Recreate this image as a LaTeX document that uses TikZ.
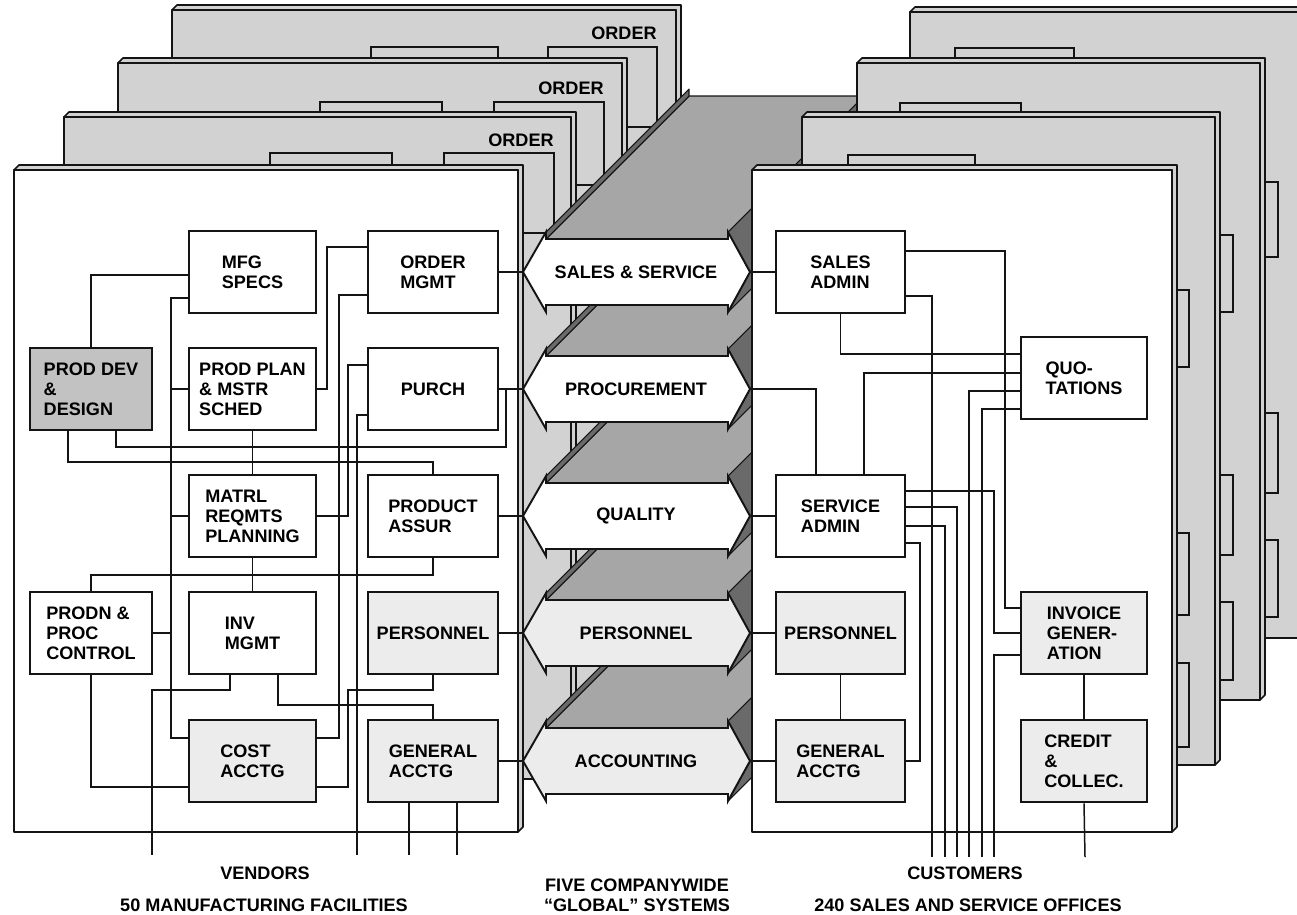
\documentclass[tikz,border=0pt]{standalone}
\usepackage{fontspec}
\setmainfont{Liberation Sans}
\usepackage{tikz}

\definecolor{ChartBlack}{HTML}{141414}
\definecolor{ChartWhite}{HTML}{FFFFFF}
\definecolor{ChartStipple}{HTML}{D2D2D2}
\definecolor{ChartLight}{HTML}{ECECEC}
\definecolor{ChartShade}{HTML}{C2C2C2}
\definecolor{ChartBand}{HTML}{A6A6A6}
\definecolor{ChartDark}{HTML}{6A6A6A}

\tikzset{
    % Base box style
    basebox/.style={
        draw=ChartBlack,
        fill=ChartWhite,
        line width=1.6pt,
        align=left,
        inner sep=2pt,
        font=\fontsize{10.3}{11.4}\selectfont\bfseries
    },
    % Outer column of the plant
    sidebox/.style={basebox, minimum width=2.44cm, minimum height=1.64cm},
    % Middle column of the plant
    midbox/.style={basebox, minimum width=2.54cm, minimum height=1.64cm},
    % Inner column of the plant
    mainbox/.style={basebox, minimum width=2.6cm, minimum height=1.64cm},
    % Inner column of the office
    salesbox/.style={basebox, minimum width=2.58cm, minimum height=1.64cm},
    % Outer column of the office
    billbox/.style={basebox, minimum width=2.52cm, minimum height=1.64cm},
    % Fills
    shadedbox/.style={fill=ChartShade},
    lightbox/.style={fill=ChartLight},
    % Lines
    wire/.style={draw=ChartBlack, line width=0.85pt},
    panelline/.style={draw=ChartBlack, line width=0.9pt, line join=round},
    tabline/.style={draw=ChartBlack, line width=1.5pt},
    bandface/.style={draw=ChartBlack, line width=0.6pt, line join=round},
    arrowface/.style={draw=ChartBlack, line width=1.1pt, line join=miter},
    % Texts
    arrowlabel/.style={font=\fontsize{10.3}{11.4}\selectfont\bfseries},
    ordertext/.style={font=\fontsize{10.3}{11.4}\selectfont\bfseries, inner sep=0pt},
    captiontext/.style={font=\fontsize{10.3}{11.4}\selectfont\bfseries, align=center}
}

% Panel with a thin edge to the back
\newcommand{\slabpanel}[5]{%
    \filldraw[panelline, fill=ChartStipple] (#1,#2) -- ({#1+5},{#2-5}) -- ({#3+5},{#2-5}) -- ({#3+5},{#4-5}) -- (#3,#4) -- (#3,#2) -- cycle;
    \filldraw[panelline, fill=#5] (#1,#2) rectangle (#3,#4);
}

\begin{document}
\begin{tikzpicture}[x=0.02cm, y=-0.02cm]
    \useasboundingbox (0,0) rectangle (1297,914);
    \clip (0,0) rectangle (1297,914);

    % Plants behind
    \slabpanel{172}{10}{676}{672}{ChartStipple}
    \filldraw[tabline, fill=ChartStipple] (371,47) rectangle (498,127);
    \filldraw[tabline, fill=ChartStipple] (548,47) rectangle (657,127);
    \node[ordertext, anchor=east] (orderthree) at (657,33) {ORDER};
    \slabpanel{118}{63}{622}{725}{ChartStipple}
    \filldraw[tabline, fill=ChartStipple] (320,102) rectangle (442,182);
    \filldraw[tabline, fill=ChartStipple] (494,102) rectangle (604,185);
    \node[ordertext, anchor=east] (ordertwo) at (604,88) {ORDER};
    \slabpanel{64}{117}{571}{779}{ChartStipple}
    \filldraw[tabline, fill=ChartStipple] (270,153) rectangle (392,233);
    \filldraw[tabline, fill=ChartStipple] (444,153) rectangle (554,233);
    \node[ordertext, anchor=east] (orderone) at (554,140) {ORDER};

    % Global systems band
    \foreach \yc in {761,633,516,389,272}{
        \filldraw[bandface, fill=ChartBand] (546,{\yc-33}) -- (728,{\yc-33}) -- (871,{\yc-176}) -- (689,{\yc-176}) -- cycle;
        \filldraw[bandface, fill=ChartDark] (546,{\yc-40}) -- (546,{\yc-33}) -- (689,{\yc-176}) -- (689,{\yc-183}) -- cycle;
        \filldraw[bandface, fill=ChartDark] (728,{\yc-40}) -- (750,\yc) -- (893,{\yc-143}) -- (871,{\yc-183}) -- cycle;
        \filldraw[bandface, fill=ChartDark] (750,\yc) -- (728,{\yc+40}) -- (871,{\yc-103}) -- (893,{\yc-143}) -- cycle;
    }

    % Offices behind
    \slabpanel{910}{12}{1320}{638}{ChartStipple}
    \filldraw[tabline, fill=ChartStipple] (955,48) rectangle (1074,130);
    \filldraw[tabline, fill=ChartStipple] (1152,182) rectangle (1278,257);
    \filldraw[tabline, fill=ChartStipple] (1152,413) rectangle (1278,493);
    \filldraw[tabline, fill=ChartStipple] (1152,540) rectangle (1278,617);
    \slabpanel{857}{63}{1260}{700}{ChartStipple}
    \filldraw[tabline, fill=ChartStipple] (900,103) rectangle (1021,185);
    \filldraw[tabline, fill=ChartStipple] (1107,235) rectangle (1233,312);
    \filldraw[tabline, fill=ChartStipple] (1107,475) rectangle (1233,555);
    \filldraw[tabline, fill=ChartStipple] (1107,602) rectangle (1233,680);
    \slabpanel{802}{117}{1215}{765}{ChartStipple}
    \filldraw[tabline, fill=ChartStipple] (848,155) rectangle (975,237);
    \filldraw[tabline, fill=ChartStipple] (1063,290) rectangle (1189,367);
    \filldraw[tabline, fill=ChartStipple] (1063,533) rectangle (1189,615);
    \filldraw[tabline, fill=ChartStipple] (1063,663) rectangle (1189,747);

    % Front plant and front office
    \slabpanel{14}{170}{518}{832}{ChartWhite}
    \slabpanel{752}{170}{1172}{832}{ChartWhite}

    % Double arrows
    \foreach \yc/\tone/\txt/\key in {761/ChartLight/ACCOUNTING/acct, 633/ChartLight/PERSONNEL/pers, 516/ChartWhite/QUALITY/qual, 389/ChartWhite/PROCUREMENT/proc, 272/ChartWhite/SALES \& SERVICE/sales}{
        \filldraw[arrowface, fill=\tone] (523,\yc) -- (546,{\yc-40}) -- (546,{\yc-33}) -- (728,{\yc-33}) -- (728,{\yc-40}) -- (750,\yc)
            -- (728,{\yc+40}) -- (728,{\yc+33}) -- (546,{\yc+33}) -- (546,{\yc+40}) -- cycle;
        \node[arrowlabel] (\key) at (636,\yc) {\txt};
        \coordinate (\key-w) at (523,\yc);
        \coordinate (\key-e) at (750,\yc);
    }

    % Plant functions
    \node[midbox] (mfgspecs) at (252.5,272) {MFG\\SPECS};
    \node[mainbox] (ordermgmt) at (433,272) {ORDER\\MGMT};
    \node[sidebox, shadedbox] (proddev) at (91,389) {PROD DEV\\\&\\DESIGN};
    \node[midbox] (prodplan) at (252.5,389) {PROD PLAN\\\& MSTR\\SCHED};
    \node[mainbox] (purch) at (433,389) {PURCH};
    \node[midbox] (matrl) at (252.5,516) {MATRL\\REQMTS\\PLANNING};
    \node[mainbox] (productassur) at (433,516) {PRODUCT\\ASSUR};
    \node[sidebox] (prodn) at (91,633) {PRODN \&\\PROC\\CONTROL};
    \node[midbox] (invmgmt) at (252.5,633) {INV\\MGMT};
    \node[mainbox, lightbox] (personnelL) at (433,633) {PERSONNEL};
    \node[midbox, lightbox] (costacctg) at (252.5,761) {COST\\ACCTG};
    \node[mainbox, lightbox] (genacctgL) at (433,761) {GENERAL\\ACCTG};

    % Office functions
    \node[salesbox] (salesadmin) at (840.5,272) {SALES\\ADMIN};
    \node[billbox] (quotations) at (1084,378) {QUO-\\TATIONS};
    \node[salesbox] (serviceadmin) at (840.5,516) {SERVICE\\ADMIN};
    \node[salesbox, lightbox] (personnelR) at (840.5,633) {PERSONNEL};
    \node[salesbox, lightbox] (genacctgR) at (840.5,761) {GENERAL\\ACCTG};
    \node[billbox, lightbox] (invoice) at (1084,633) {INVOICE\\GENER-\\ATION};
    \node[billbox, lightbox] (credit) at (1084,761) {CREDIT\\\&\\COLLEC.};

    % Free ends
    \coordinate (venA) at (152,855);
    \coordinate (venB) at (357,855);
    \coordinate (venC) at (409,855);
    \coordinate (venD) at (457,855);
    \coordinate (cusA) at (932,857);
    \coordinate (cusB) at (945,857);
    \coordinate (cusC) at (957,857);
    \coordinate (cusD) at (969,857);
    \coordinate (cusE) at (982,857);
    \coordinate (cusF) at (994,857);
    \coordinate (cusG) at (1085,857);

    % Plant wiring
    \draw[wire] (mfgspecs.west |- 0,275) -| (proddev.north);
    \draw[wire] (mfgspecs.west |- 0,298) -| (171,738) -- (costacctg.west |- 0,738);
    \draw[wire] (prodplan.west) -- (prodplan.west -| 171,0);
    \draw[wire] (matrl.west) -- (matrl.west -| 171,0);
    \draw[wire] (prodn.east) -- (prodn.east -| 171,0);
    \draw[wire] (ordermgmt.west |- 0,247) -| (327,389) -- (prodplan.east);
    \draw[wire] (ordermgmt.west |- 0,295) -| (339,738) -- (costacctg.east |- 0,738);
    \draw[wire] (purch.west |- 0,365) -| (348,516) -- (matrl.east);
    \draw[wire] (purch.west |- 0,415) -| (venB);
    \draw[wire] (purch.east) -- (proc-w);
    \draw[wire] (purch.east -| 506,0) -- (506,447) -| (proddev.south -| 116,0);
    \draw[wire] (proddev.south -| 68,0) |- (433,462) -- (productassur.north);
    \draw[wire] (prodplan.south) -- (matrl.north);
    \draw[wire] (matrl.south) -- (invmgmt.north);
    \draw[wire] (productassur.south) |- (91,575) -- (prodn.north);
    \draw[wire] (invmgmt.south -| 230,0) -- (230,690) -| (venA);
    \draw[wire] (invmgmt.south -| 278,0) |- (433,705) -- (genacctgL.north);
    \draw[wire] (personnelL.south) |- (348,690) |- (costacctg.east |- 0,787);
    \draw[wire] (prodn.south) |- (costacctg.west |- 0,787);
    \draw[wire] (ordermgmt.east) -- (sales-w);
    \draw[wire] (productassur.east) -- (qual-w);
    \draw[wire] (personnelL.east) -- (pers-w);
    \draw[wire] (genacctgL.east) -- (acct-w);
    \draw[wire] (genacctgL.south -| venC) -- (venC);
    \draw[wire] (genacctgL.south -| venD) -- (venD);

    % Office wiring
    \draw[wire] (sales-e) -- (salesadmin.west);
    \draw[wire] (salesadmin.east |- 0,251) -| (1005,608) -- (invoice.west |- 0,608);
    \draw[wire] (salesadmin.east |- 0,296) -| (cusA);
    \draw[wire] (salesadmin.south) |- (quotations.west |- 0,354);
    \draw[wire] (quotations.west |- 0,373) -| (serviceadmin.north -| 864,0);
    \draw[wire] (quotations.west |- 0,391) -| (cusD);
    \draw[wire] (quotations.west |- 0,409) -| (cusE);
    \draw[wire] (proc-e) -| (serviceadmin.north -| 816,0);
    \draw[wire] (qual-e) -- (serviceadmin.west);
    \draw[wire] (serviceadmin.east |- 0,491) -| (994,633) -- (invoice.west);
    \draw[wire] (invoice.west |- 0,655) -| (cusF);
    \draw[wire] (serviceadmin.east |- 0,507) -| (cusC);
    \draw[wire] (serviceadmin.east |- 0,526) -| (cusB);
    \draw[wire] (serviceadmin.east |- 0,543) -| (920,761) -- (genacctgR.east);
    \draw[wire] (pers-e) -- (personnelR.west);
    \draw[wire] (acct-e) -- (genacctgR.west);
    \draw[wire] (personnelR.south) -- (genacctgR.north);
    \draw[wire] (invoice.south) -- (credit.north);
    \draw[wire] (credit.south) -- (cusG);

    % Captions
    \node[captiontext] (vendors) at (265,873) {VENDORS};
    \node[captiontext] (facilities) at (264,905) {50 MANUFACTURING FACILITIES};
    \node[captiontext] (globalsys) at (637,895) {FIVE COMPANYWIDE\\\textquotedblleft GLOBAL\textquotedblright\ SYSTEMS};
    \node[captiontext] (customers) at (965,873) {CUSTOMERS};
    \node[captiontext] (offices) at (968,905) {240 SALES AND SERVICE OFFICES};
\end{tikzpicture}
\end{document}
